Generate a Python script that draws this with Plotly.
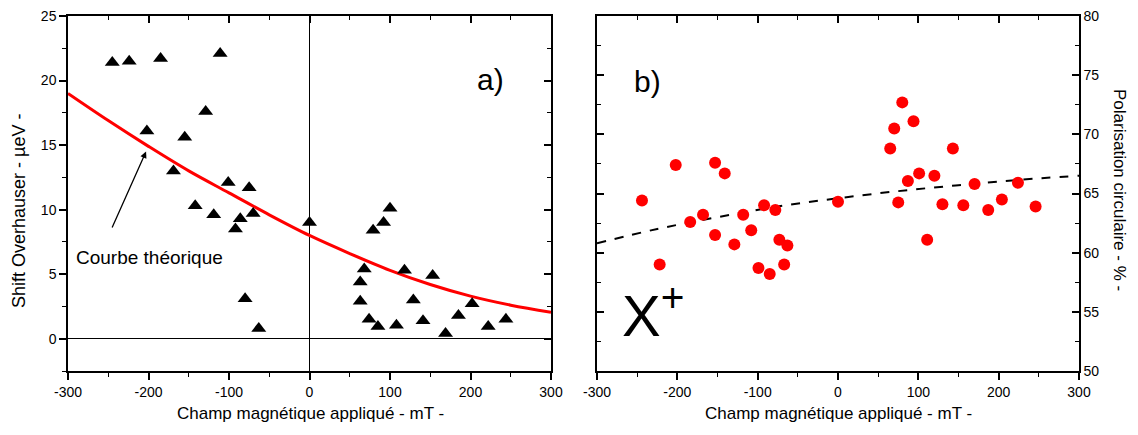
import plotly.graph_objects as go

# ---- Panel a) data : Overhauser shift (µeV) vs applied field (mT)
field_a = [-245, -224, -185, -111, -129, -155, -202, -169, -101, -75, -142, -119, -86, -70, -92, -80, -63,
           0, 100, 92, 79, 68, 63, 63, 74, 85, 108, 118, 129, 141, 153, 169, 185, 202, 222, 244]
shift_a = [21.4, 21.5, 21.7, 22.1, 17.6, 15.6, 16.1, 13.0, 12.1, 11.7, 10.3, 9.6, 9.3, 9.7, 8.5, 3.1, 0.8,
           9.0, 10.1, 9.0, 8.4, 5.4, 4.4, 2.9, 1.5, 0.95, 1.05, 5.3, 3.0, 1.4, 4.9, 0.4, 1.8, 2.7, 0.95, 1.5]

# Theoretical curve
theo_field = [-300, -250, -200, -150, -100, -50, 0, 50, 100, 150, 200, 250, 300]
theo_shift = [19.0, 16.9, 14.9, 13.0, 11.3, 9.6, 8.0, 6.6, 5.3, 4.2, 3.3, 2.6, 2.05]

# ---- Panel b) data : circular polarisation (%) vs applied field (mT)
field_b = [-244, -202, -222, -184, -168, -153, -141, -153, -129, -118, -108, -99, -92, -85, -78, -73, -67, -63,
           0, 65, 70, 80, 94, 75, 87, 101, 120, 111, 130, 143, 156, 170, 187, 204, 224, 246]
polar_b = [64.4, 67.4, 59.0, 62.6, 63.2, 67.6, 66.7, 61.5, 60.7, 63.2, 61.9, 58.7, 64.0, 58.2, 63.6, 61.1, 59.0, 60.6,
           64.3, 68.8, 70.5, 72.7, 71.1, 64.25, 66.05, 66.7, 66.5, 61.1, 64.1, 68.8, 64.0, 65.8, 63.6, 64.5, 65.9, 63.9]

fit_field = [-300, -225, -150, -75, 0, 75, 150, 225, 300]
fit_polar = [60.8, 62.0, 63.0, 63.9, 64.6, 65.2, 65.7, 66.15, 66.5]

x_ticks = [-300, -200, -100, 0, 100, 200, 300]
x_ticktext = ["-300", "-200", "-100", "0", "100", "200", "300"]
ya_ticks = [0, 5, 10, 15, 20, 25]
yb_ticks = [50, 55, 60, 65, 70, 75, 80]

FONT = "Liberation Sans, Arial, sans-serif"
W, H, OFF = 1122, 419, 8   # page has an 8px body margin


def px(x):
    return (x - OFF) / W


def py(y):
    return (H - (y - OFF)) / H


XDOM_A = [px(68), px(551)]
XDOM_B = [px(597), px(1079)]
YDOM = [py(371), py(16)]

fig = go.Figure()

fig.add_trace(go.Scatter(x=theo_field, y=theo_shift, mode="lines", line=dict(color="#ff0000", width=3, shape="spline"),
                         xaxis="x", yaxis="y", showlegend=False))
fig.add_trace(go.Scatter(x=field_a, y=shift_a, mode="markers",
                         marker=dict(symbol="triangle-up", size=13, color="black"),
                         xaxis="x", yaxis="y", showlegend=False))

fig.add_trace(go.Scatter(x=fit_field, y=fit_polar, mode="lines",
                         line=dict(color="black", width=2, dash="dash", shape="spline"),
                         xaxis="x2", yaxis="y2", showlegend=False))
fig.add_trace(go.Scatter(x=field_b, y=polar_b, mode="markers",
                         marker=dict(symbol="circle", size=12, color="#ff0000"),
                         xaxis="x2", yaxis="y2", showlegend=False))

# dummy traces to activate mirror axes
fig.add_trace(go.Scatter(x=[None], y=[None], xaxis="x3", yaxis="y3", showlegend=False, hoverinfo="skip"))
fig.add_trace(go.Scatter(x=[None], y=[None], xaxis="x4", yaxis="y4", showlegend=False, hoverinfo="skip"))

tickfont = dict(family=FONT, size=14, color="black")
common = dict(showgrid=False, showline=True, linecolor="black", linewidth=1.5, automargin=False,
              tickcolor="black", tickwidth=1.5, ticklen=7, tickfont=tickfont, ticklabeloverflow="allow")


def minor(dt, side):
    return dict(dtick=dt, ticks=side, ticklen=4, tickcolor="black", tickwidth=1.2)


fig.update_layout(
    width=W, height=H,
    margin=dict(l=0, r=0, t=0, b=0),
    paper_bgcolor="white", plot_bgcolor="white",
    font=dict(family=FONT, color="black"),
    xaxis=dict(domain=XDOM_A, range=[-300, 300], tickvals=x_ticks, ticktext=x_ticktext, ticks="outside", anchor="y",
               zeroline=True, zerolinecolor="black", zerolinewidth=1.2, minor=minor(50, "outside"), **common),
    yaxis=dict(domain=YDOM, range=[-2.5, 25], tickvals=ya_ticks, ticks="outside", anchor="x",
               zeroline=True, zerolinecolor="black", zerolinewidth=1.2, minor=minor(2.5, "outside"), **common),
    xaxis3=dict(domain=XDOM_A, range=[-300, 300], tickvals=x_ticks, ticks="inside", side="top",
                overlaying="x", anchor="y3", showticklabels=False, zeroline=False, minor=minor(50, "inside"), **common),
    yaxis3=dict(domain=YDOM, range=[-2.5, 25], tickvals=ya_ticks, ticks="inside", side="right",
                overlaying="y", anchor="x3", showticklabels=False, zeroline=False, minor=minor(2.5, "inside"), **common),
    xaxis2=dict(domain=XDOM_B, range=[-300, 300], tickvals=x_ticks, ticktext=x_ticktext, ticks="outside", anchor="y2",
                zeroline=False, minor=minor(50, "outside"), **common),
    yaxis2=dict(domain=YDOM, range=[50, 80], tickvals=yb_ticks, ticks="inside", side="right", anchor="x2",
                zeroline=False, minor=minor(2.5, "inside"), **common),
    xaxis4=dict(domain=XDOM_B, range=[-300, 300], tickvals=x_ticks, ticks="inside", side="top",
                overlaying="x2", anchor="y4", showticklabels=False, zeroline=False, minor=minor(50, "inside"), **common),
    yaxis4=dict(domain=YDOM, range=[50, 80], tickvals=yb_ticks, ticks="inside", side="left",
                overlaying="y2", anchor="x4", showticklabels=False, zeroline=False, minor=minor(2.5, "inside"), **common),
)

title_font = dict(family=FONT, size=17, color="black")
ann = [
    dict(text="Champ magnétique appliqué - mT -", xref="paper", yref="paper", x=px(310), y=py(413),
         showarrow=False, font=title_font, xanchor="center", yanchor="middle"),
    dict(text="Champ magnétique appliqué - mT -", xref="paper", yref="paper", x=px(838), y=py(413),
         showarrow=False, font=title_font, xanchor="center", yanchor="middle"),
    dict(text="Shift Overhauser - µeV -", xref="paper", yref="paper", x=px(19), y=py(211),
         showarrow=False, font=dict(family=FONT, size=18, color="black"), textangle=-90,
         xanchor="center", yanchor="middle"),
    dict(text="Polarisation circulaire - % -", xref="paper", yref="paper", x=px(1120), y=py(190),
         showarrow=False, font=title_font, textangle=90, xanchor="center", yanchor="middle"),
    dict(text="a)", xref="x", yref="y", x=225, y=20.1, showarrow=False,
         font=dict(family=FONT, size=30, color="black"), xanchor="center", yanchor="middle"),
    dict(text="b)", xref="x2", yref="y2", x=-237, y=74.5, showarrow=False,
         font=dict(family=FONT, size=30, color="black"), xanchor="center", yanchor="middle"),
    dict(text="X<sup>+</sup>", xref="x2", yref="y2", x=-230, y=55.0, showarrow=False,
         font=dict(family=FONT, size=58, color="black"), xanchor="center", yanchor="middle"),
    dict(text="Courbe théorique", xref="x", yref="y", x=-293, y=6.3, showarrow=False,
         font=dict(family=FONT, size=19, color="black"), xanchor="left", yanchor="middle"),
    dict(text="", xref="x", yref="y", x=-203, y=14.5, axref="x", ayref="y", ax=-246, ay=8.5,
         showarrow=True, arrowhead=2, arrowsize=1, arrowwidth=1.3, arrowcolor="black"),
]
fig.update_layout(annotations=ann)

fig.write_html("out.html")
